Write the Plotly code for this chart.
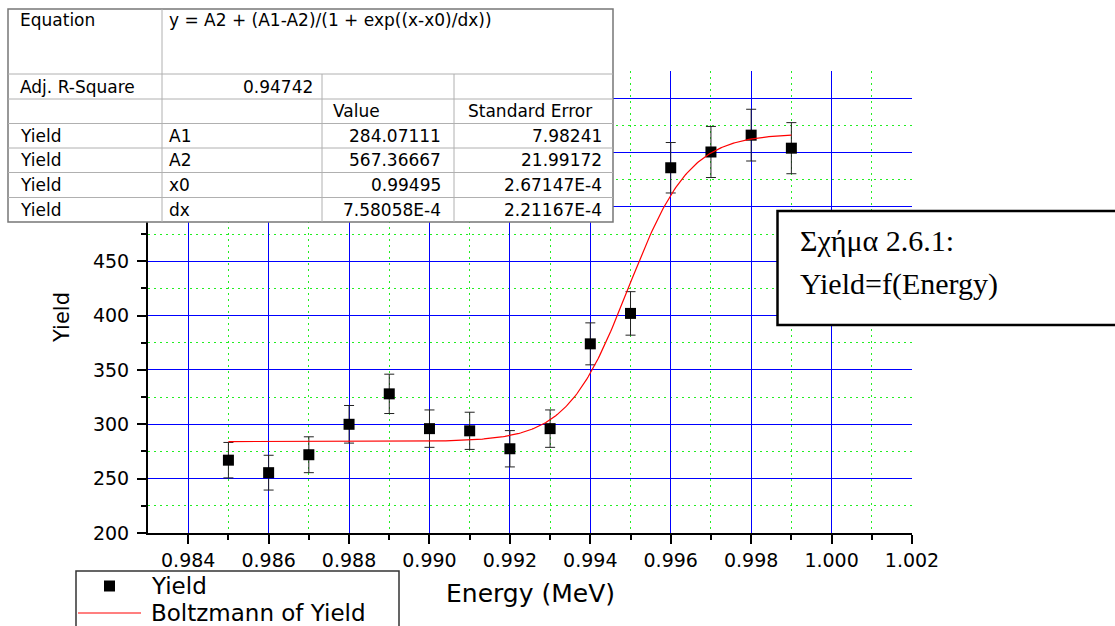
import numpy as np
import plotly.graph_objects as go

# Measured yield vs beam energy
energy = [0.985, 0.986, 0.987, 0.988, 0.989, 0.990, 0.991, 0.992,
          0.993, 0.994, 0.995, 0.996, 0.997, 0.998, 0.999]
yield_vals = [267, 255.5, 272, 300, 328, 296, 294, 277.5,
              296, 374, 402, 536, 550.5, 566, 554]
yield_err = [16.3, 16.0, 16.5, 17.3, 18.1, 17.2, 17.1, 16.7,
             17.2, 19.3, 20.0, 23.2, 23.5, 23.8, 23.5]

# Boltzmann fit results
A1 = 284.07111
A2 = 567.36667
X0 = 0.99495
DX = 7.58058e-4
equation_text = "y = A2 + (A1-A2)/(1 + exp((x-x0)/dx))"
adj_r2_text = "0.94742"
param_names = ["A1", "A2", "x0", "dx"]
param_values = ["284.07111", "567.36667", "0.99495", "7.58058E-4"]
param_errors = ["7.98241", "21.99172", "2.67147E-4", "2.21167E-4"]

# Axis ticks
x_ticks = [0.984, 0.986, 0.988, 0.990, 0.992, 0.994, 0.996, 0.998, 1.000, 1.002]
x_tick_labels = ["0.984", "0.986", "0.988", "0.990", "0.992", "0.994",
                 "0.996", "0.998", "1.000", "1.002"]
x_minor_ticks = [0.985, 0.987, 0.989, 0.991, 0.993, 0.995, 0.997, 0.999, 1.001]
y_ticks = [200, 250, 300, 350, 400, 450, 500, 550, 600]
y_tick_labels = ["200", "250", "300", "350", "400", "450", "", "", ""]
y_minor_ticks = [225, 275, 325, 375, 425, 475, 525, 575]

# Fit curve evaluated from the reported parameters
fit_x = np.linspace(energy[0], energy[-1], 400)
fit_y = A2 + (A1 - A2) / (1 + np.exp((fit_x - X0) / DX))

# Pixel layout of the plotting area
FIG_W, FIG_H = 1115, 626
L, T, W, H = 148, 71, 764, 462


def fx(px):
    return (px - L) / W


def fy(py):
    return (T + H - py) / H


SANS = "DejaVu Sans"
SERIF = "Liberation Serif"
MAJOR_GRID = "#0000ff"
MINOR_GRID = "#22ee22"

fig = go.Figure()

fig.add_trace(go.Scatter(
    x=energy, y=yield_vals, mode="markers", name="Yield",
    marker=dict(symbol="square", size=11, color="black"),
    error_y=dict(type="data", array=yield_err, visible=True,
                 color="#222222", thickness=1, width=5),
    showlegend=False,
))
fig.add_trace(go.Scatter(
    x=fit_x, y=fit_y, mode="lines", name="Boltzmann of Yield",
    line=dict(color="red", width=1.2), showlegend=False,
))

shapes = []
annotations = []


def rect(x0, y0, x1, y1, color, width, fill="white"):
    shapes.append(dict(type="rect", xref="paper", yref="paper",
                       x0=fx(x0), x1=fx(x1), y0=fy(y1), y1=fy(y0),
                       line=dict(color=color, width=width),
                       fillcolor=fill, layer="above"))


def hline(x0, x1, y, color, width):
    shapes.append(dict(type="line", xref="paper", yref="paper",
                       x0=fx(x0), x1=fx(x1), y0=fy(y), y1=fy(y),
                       line=dict(color=color, width=width), layer="above"))


def vline(x, y0, y1, color, width):
    shapes.append(dict(type="line", xref="paper", yref="paper",
                       x0=fx(x), x1=fx(x), y0=fy(y0), y1=fy(y1),
                       line=dict(color=color, width=width), layer="above"))


def text(s, x, y, anchor="left", size=17, family=SANS, angle=0):
    annotations.append(dict(text=s, xref="paper", yref="paper",
                            x=fx(x), y=fy(y), xanchor=anchor, yanchor="middle",
                            showarrow=False, textangle=angle,
                            font=dict(family=family, size=size, color="black")))


# ---- fit results table ----
TX0, TX1, TY0, TY1 = 8, 613, 9, 222
COLS = [162, 322, 454]
ROWS = [74, 99, 123.5, 148, 172.5, 197.5]
rect(TX0, TY0, TX1, TY1, "#777777", 1.5)
for ry in ROWS:
    hline(TX0, TX1, ry, "#b0b0b0", 1)
vline(COLS[0], TY0, TY1, "#b0b0b0", 1)
vline(COLS[1], ROWS[0], TY1, "#b0b0b0", 1)
vline(COLS[2], ROWS[0], TY1, "#b0b0b0", 1)

text("Equation", 18, 20)
text(equation_text, 167, 20)
text("Adj. R-Square", 18, 86.5)
text(adj_r2_text, 315, 86.5, anchor="right")
text("Value", 331, 111)
text("Standard Error", 466, 111)
row_centers = [135.8, 160.3, 185, 209.7]
for name, val, err, cy in zip(param_names, param_values, param_errors, row_centers):
    text("Yield", 18, cy)
    text(name, 167, cy)
    text(val, 443, cy, anchor="right")
    text(err, 604, cy, anchor="right")

# ---- caption box ----
rect(777.5, 211, 1125, 325, "black", 2.5)
text("Σχήμα 2.6.1:", 798, 240, size=30, family=SERIF)
text("Yield=f(Energy)", 798, 284, size=30, family=SERIF)

# ---- legend ----
rect(76, 571, 399, 645, "#333333", 1.5)
shapes.append(dict(type="rect", xref="paper", yref="paper",
                   x0=fx(104), x1=fx(115), y0=fy(591.5), y1=fy(580.5),
                   line=dict(width=0), fillcolor="black", layer="above"))
hline(78, 141, 613, "red", 1.2)
text("Yield", 149, 586, size=23)
text("Boltzmann of Yield", 149, 613, size=23)

# ---- axis titles ----
text("Energy (MeV)", 530, 593, anchor="center", size=25)
text("Yield", 62, 318, anchor="center", size=21, angle=-90)

axis_common = dict(
    tickmode="array",
    showline=True, linecolor="black", linewidth=2,
    ticks="outside", ticklen=9, tickwidth=2, tickcolor="black",
    showgrid=True, gridcolor=MAJOR_GRID, gridwidth=1, zeroline=False,
    tickfont=dict(family=SANS, size=19, color="black"),
)
minor_common = dict(
    tickmode="array", ticks="outside", ticklen=5, tickwidth=2,
    tickcolor="black", showgrid=True, gridcolor=MINOR_GRID,
    griddash="2px,4px", gridwidth=1,
)

fig.update_layout(
    width=FIG_W, height=FIG_H,
    margin=dict(l=L, r=FIG_W - L - W, t=T, b=FIG_H - T - H, pad=0),
    paper_bgcolor="white", plot_bgcolor="white",
    showlegend=False,
    shapes=shapes, annotations=annotations,
    xaxis=dict(
        range=[0.983, 1.0020001],
        tickvals=x_ticks, ticktext=x_tick_labels,
        minor=dict(tickvals=x_minor_ticks, **minor_common),
        **axis_common,
    ),
    yaxis=dict(
        range=[200, 625],
        tickvals=y_ticks, ticktext=y_tick_labels,
        ticklabelstandoff=4,
        minor=dict(tickvals=y_minor_ticks, **minor_common),
        **axis_common,
    ),
)

fig.write_html("out.html")
